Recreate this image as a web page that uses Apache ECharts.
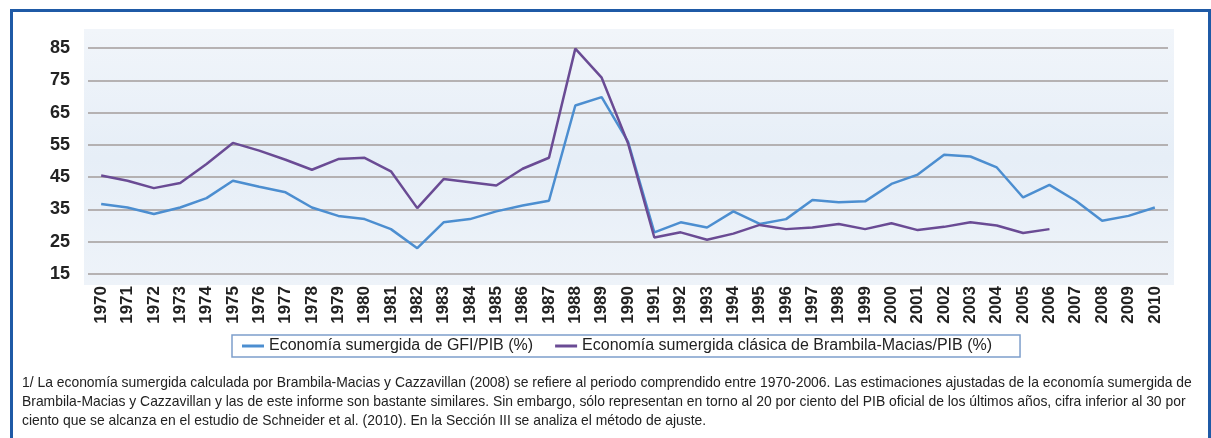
<!DOCTYPE html>
<html>
<head>
<meta charset="utf-8">
<script src="https://cdn.jsdelivr.net/npm/echarts@6/dist/echarts.min.js"></script>
<style>
  html, body { margin: 0; padding: 0; background: #fff; }
  #chart { width: 1211px; height: 438px; }
</style>
</head>
<body>
<div id="chart"></div>
<script>
// años del eje x
const years = []
for (let y = 1970; y <= 2010; y++) years.push(String(y))

// Economía sumergida de GFI/PIB (%)
const gfiPib = [
  36.7, 35.6, 33.6, 35.6, 38.5, 43.9, 42.0, 40.3, 35.6, 33.0,
  32.0, 28.9, 23.0, 31.0, 32.0, 34.4, 36.2, 37.7, 67.2, 69.8,
  56.0, 27.9, 31.0, 29.4, 34.4, 30.5, 32.0, 37.9, 37.2, 37.5,
  42.9, 45.8, 51.9, 51.4, 48.0, 38.7, 42.6, 37.7, 31.5, 33.0,
  35.6
]

// Economía sumergida clásica de Brambila-Macias/PIB (%), solo hasta 2006
const brambilaPib = [
  45.5, 43.9, 41.6, 43.2, 49.1, 55.6, 53.2, 50.4, 47.3, 50.6,
  51.0, 46.8, 35.4, 44.4, 43.4, 42.4, 47.6, 51.0, 84.8, 75.8,
  55.5, 26.3, 27.9, 25.6, 27.5, 30.2, 28.9, 29.4, 30.5, 28.9,
  30.7, 28.6, 29.6, 31.0, 30.0, 27.7, 28.9, null, null, null,
  null
]

const yTicks = { min: 15, max: 85, interval: 10 }

const footnote = [
  '1/ La economía sumergida calculada por Brambila-Macias y Cazzavillan (2008) se refiere al periodo comprendido entre 1970-2006. Las estimaciones ajustadas de la economía sumergida de',
  'Brambila-Macias y Cazzavillan y las de este informe son bastante similares. Sin embargo, sólo representan en torno al 20 por ciento del PIB oficial de los últimos años, cifra inferior al 30 por',
  'ciento que se alcanza en el estudio de Schneider et al. (2010). En la Sección III se analiza el método de ajuste.'
]

const font = '"Liberation Sans", Arial, sans-serif'
const chart = echarts.init(document.getElementById('chart'))

chart.setOption({
  animation: false,
  grid: { left: 88, right: 43, top: 48, bottom: 164 },
  graphic: [
    // marco azul
    {
      type: 'rect', z: -10,
      shape: { x: 11.5, y: 10.5, width: 1198, height: 440 },
      style: { fill: '#fff', stroke: '#1f5aa6', lineWidth: 3 }
    },
    // fondo del área de trazado
    {
      type: 'rect', z: -5,
      shape: { x: 84, y: 29, width: 1090, height: 256 },
      style: {
        fill: new echarts.graphic.LinearGradient(0, 0, 0, 1, [
          { offset: 0, color: '#f1f5fa' },
          { offset: 0.5, color: '#e6eef7' },
          { offset: 1, color: '#eef3f9' }
        ])
      }
    },
    {
      type: 'text', left: 22, top: 374,
      style: {
        text: footnote.join('\n'),
        font: '13.9px ' + font,
        fill: '#222',
        lineHeight: 19
      }
    }
  ],
  legend: {
    left: 232, top: 335,
    itemWidth: 22, itemHeight: 3, itemGap: 22,
    padding: [3, 28, 3, 10],
    borderColor: '#7e9fcb', borderWidth: 1.5,
    icon: 'rect',
    textStyle: { fontFamily: font, fontSize: 16, color: '#222' },
    data: ['Economía sumergida de GFI/PIB (%)', 'Economía sumergida clásica de Brambila-Macias/PIB (%)']
  },
  xAxis: {
    type: 'category',
    data: years,
    boundaryGap: true,
    axisLine: { show: false },
    axisTick: { show: false },
    axisLabel: {
      rotate: 90, margin: 12,
      fontFamily: font, fontWeight: 'bold', fontSize: 17, color: '#222'
    }
  },
  yAxis: {
    type: 'value',
    min: yTicks.min, max: yTicks.max, interval: yTicks.interval,
    axisLine: { show: false },
    axisTick: { show: false },
    axisLabel: { margin: 18, fontFamily: font, fontWeight: 'bold', fontSize: 18, color: '#222' },
    splitLine: { lineStyle: { color: '#a39d9b', width: 1.5 } }
  },
  series: [
    {
      name: 'Economía sumergida de GFI/PIB (%)',
      type: 'line',
      data: gfiPib,
      symbol: 'none',
      color: '#4c8ed0',
      lineStyle: { width: 2.5 }
    },
    {
      name: 'Economía sumergida clásica de Brambila-Macias/PIB (%)',
      type: 'line',
      data: brambilaPib,
      symbol: 'none',
      color: '#6a4b94',
      lineStyle: { width: 2.5 }
    }
  ]
})
</script>
</body>
</html>
